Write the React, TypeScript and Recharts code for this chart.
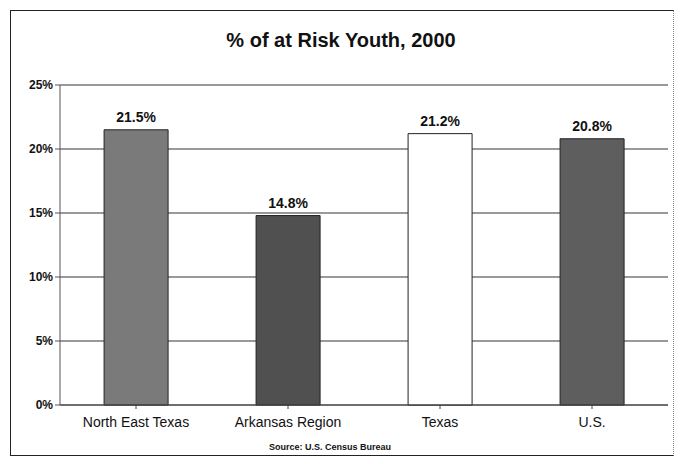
import React from "react";
import { BarChart, Bar, XAxis, YAxis, CartesianGrid, Cell, LabelList } from "recharts";

const categories = ["North East Texas", "Arkansas Region", "Texas", "U.S."];
const riskValues = [21.5, 14.8, 21.2, 20.8];
const yTicks = [0, 5, 10, 15, 20, 25];

const FILLS = ["#7a7a7a", "#505050", "#ffffff", "#5e5e5e"];
const FONT = "'Liberation Sans', Arial, sans-serif";

const data = categories.map((name, i) => ({ name, value: riskValues[i] }));

export default function App() {
  return (
    <div
      style={{
        position: "fixed",
        left: 0,
        top: 0,
        width: 680,
        height: 464,
        background: "#fff",
        fontFamily: FONT,
        overflow: "hidden",
      }}
    >
      <div
        style={{
          position: "absolute",
          left: 10,
          top: 10,
          width: 662,
          height: 444,
          border: "1px solid #222",
          borderRight: "1px dotted #888",
        }}
      />
      <div
        style={{
          position: "absolute",
          left: 0,
          top: 29,
          width: 682,
          textAlign: "center",
          fontSize: 20,
          fontWeight: "bold",
          color: "#111",
        }}
      >
        % of at Risk Youth, 2000
      </div>
      <div style={{ position: "absolute", left: 0, top: 0 }}>
        <BarChart
          width={680}
          height={464}
          data={data}
          margin={{ top: 85, right: 12, bottom: 29, left: 0 }}
          barCategoryGap="29%"
        >
          <CartesianGrid vertical={false} stroke="#333" strokeWidth={1} />
          <XAxis
            dataKey="name"
            axisLine={{ stroke: "#444" }}
            tickLine={{ stroke: "#444" }}
            tickSize={4}
            tick={{ fill: "#111", fontSize: 14, fontFamily: FONT }}
            tickMargin={8}
          />
          <YAxis
            width={60}
            domain={[0, 25]}
            ticks={yTicks}
            tickFormatter={(v) => `${v}%`}
            axisLine={{ stroke: "#555" }}
            tickLine={{ stroke: "#555" }}
            tickSize={5}
            tick={{ fill: "#111", fontSize: 12, fontWeight: "bold", fontFamily: FONT }}
          />
          <Bar dataKey="value" stroke="#222" strokeWidth={1} isAnimationActive={false}>
            {data.map((d, i) => (
              <Cell key={d.name} fill={FILLS[i]} />
            ))}
            <LabelList
              dataKey="value"
              position="top"
              offset={8}
              formatter={(v: number) => `${v.toFixed(1)}%`}
              style={{ fill: "#111", fontSize: 14, fontWeight: "bold", fontFamily: FONT }}
            />
          </Bar>
        </BarChart>
      </div>
      <div
        style={{
          position: "absolute",
          left: 0,
          top: 442,
          width: 660,
          textAlign: "center",
          fontSize: 9,
          fontWeight: "bold",
          color: "#111",
        }}
      >
        Source: U.S. Census Bureau
      </div>
    </div>
  );
}
